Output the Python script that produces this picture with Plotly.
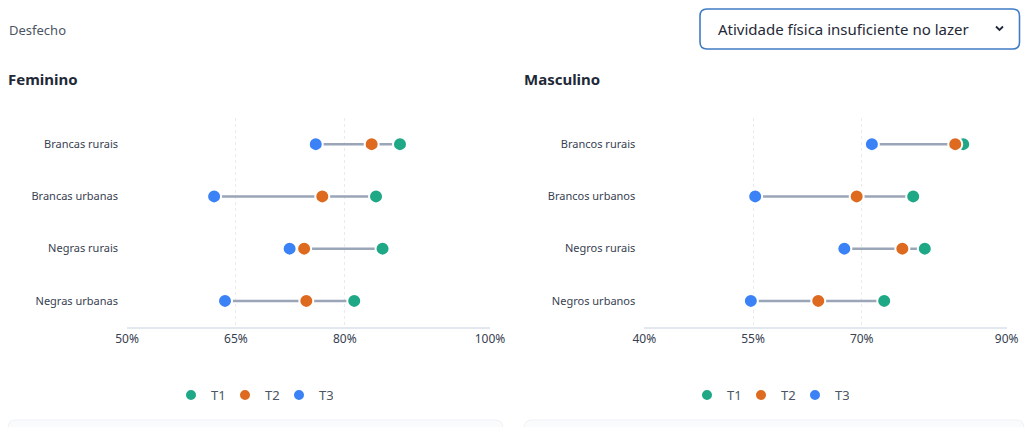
import plotly.graph_objects as go

W, H = 1032, 427

# ---- data ----
cats_f = ["Brancas rurais", "Brancas urbanas", "Negras rurais", "Negras urbanas"]
t1_f = [87.6, 84.3, 85.2, 81.3]
t2_f = [83.7, 76.9, 74.4, 74.7]
t3_f = [76.0, 62.0, 72.4, 63.5]

cats_m = ["Brancos rurais", "Brancos urbanos", "Negros rurais", "Negros urbanos"]
t1_m = [84.0, 77.1, 78.7, 73.1]
t2_m = [82.9, 69.3, 75.6, 64.0]
t3_m = [71.4, 55.3, 67.6, 54.7]

ticks_f = [50, 65, 80, 100]
ticks_m = [40, 55, 70, 90]
series_names = ["T1", "T2", "T3"]
colors = ["#1ea886", "#dd6a1f", "#3b82f6"]
FONT = "Noto Sans, Open Sans, sans-serif"

def px(x):
    return x / W

def py(y):
    return 1 - y / H

fig = go.Figure()

def add_panel(cats, t1, t2, t3, xa, ya, legend):
    lx, ly = [], []
    for c, a, b, d in zip(cats, t1, t2, t3):
        vals = [a, b, d]
        lx += [min(vals), max(vals), None]
        ly += [c, c, None]
    fig.add_trace(go.Scatter(x=lx, y=ly, mode="lines", xaxis=xa, yaxis=ya,
                             line=dict(color="#9aa5b8", width=2.5),
                             showlegend=False, hoverinfo="skip"))
    for name, vals, col in zip(series_names, [t1, t2, t3], colors):
        fig.add_trace(go.Scatter(x=vals, y=cats, mode="markers", name=name,
                                 xaxis=xa, yaxis=ya, legend=legend,
                                 marker=dict(color=col, size=14,
                                             line=dict(color="white", width=2))))

add_panel(cats_f, t1_f, t2_f, t3_f, "x", "y", "legend")
add_panel(cats_m, t1_m, t2_m, t3_m, "x2", "y2", "legend2")

ydom = [py(327), py(118)]
common_x = dict(showline=True, linecolor="#e2e8f0", linewidth=1.5,
                showgrid=True, gridcolor="#e8ebf0", griddash="dot", gridwidth=1,
                zeroline=False, ticks="", automargin=False,
                tickfont=dict(size=12, color="#374151", family=FONT),
                fixedrange=True)
common_y = dict(type="category", showline=False, showgrid=False, zeroline=False,
                ticks="", ticklabelstandoff=8, automargin=False,
                tickfont=dict(size=11, color="#374151", family=FONT),
                range=[3.5, -0.5], domain=ydom, fixedrange=True)

legend_common = dict(orientation="h", xanchor="center", yanchor="middle",
                     font=dict(size=13, color="#4b5563", family=FONT), itemwidth=30,
                     entrywidth=9, entrywidthmode="pixels", itemsizing="constant",
                     bgcolor="rgba(0,0,0,0)")

fig.update_layout(
    width=W, height=H,
    margin=dict(l=0, r=0, t=0, b=0, pad=0, autoexpand=False),
    paper_bgcolor="white", plot_bgcolor="white",
    font=dict(family=FONT, color="#374151"),
    xaxis=dict(domain=[px(127), px(490)], range=[50, 100], tickvals=ticks_f,
               ticktext=[f"{v}%" for v in ticks_f], anchor="y", **common_x),
    yaxis=dict(anchor="x", categoryorder="array", categoryarray=cats_f, **common_y),
    xaxis2=dict(domain=[px(644.3), px(1006.7)], range=[40, 90], tickvals=ticks_m,
                ticktext=[f"{v}%" for v in ticks_m], anchor="y2", **common_x),
    yaxis2=dict(anchor="x2", categoryorder="array", categoryarray=cats_m, **common_y),
    legend=dict(x=px(252), y=py(395), **legend_common),
    legend2=dict(x=px(768), y=py(395), **legend_common),
    showlegend=True,
)

# ---- texts ----
fig.add_annotation(x=px(7), y=py(30), xref="paper", yref="paper", text="Desfecho",
                   showarrow=False, xanchor="left", yanchor="middle",
                   font=dict(size=13, color="#4b5563", family=FONT))
fig.add_annotation(x=px(6), y=py(79), xref="paper", yref="paper", text="<b>Feminino</b>",
                   showarrow=False, xanchor="left", yanchor="middle",
                   font=dict(size=15, color="#1f2937", family=FONT))
fig.add_annotation(x=px(522), y=py(79), xref="paper", yref="paper", text="<b>Masculino</b>",
                   showarrow=False, xanchor="left", yanchor="middle",
                   font=dict(size=15, color="#1f2937", family=FONT))

# ---- dropdown ----
def rounded_rect(x0, y0, x1, y1, r):
    X0, X1 = px(x0), px(x1)
    Y0, Y1 = py(y0), py(y1)
    rx, ry = r / W, r / H
    return (f"M {X0+rx},{Y0} L {X1-rx},{Y0} Q {X1},{Y0} {X1},{Y0-ry} "
            f"L {X1},{Y1+ry} Q {X1},{Y1} {X1-rx},{Y1} L {X0+rx},{Y1} "
            f"Q {X0},{Y1} {X0},{Y1+ry} L {X0},{Y0-ry} Q {X0},{Y0} {X0+rx},{Y0} Z")

fig.add_shape(type="path", xref="paper", yref="paper",
              path=rounded_rect(700, 9, 1019.5, 49, 7),
              line=dict(color="#3f7cc4", width=1.6), fillcolor="white")
fig.add_annotation(x=px(716), y=py(29.5), xref="paper", yref="paper",
                   text="Atividade física insuficiente no lazer",
                   showarrow=False, xanchor="left", yanchor="middle",
                   font=dict(size=15, color="#1f2937", family=FONT))
fig.add_shape(type="path", xref="paper", yref="paper",
              path=f"M {px(996)},{py(26.5)} L {px(999.5)},{py(30)} L {px(1003)},{py(26.5)}",
              line=dict(color="#1f2937", width=1.8))

# ---- next cards (partially visible) ----
for x0, x1 in [(8, 503), (524, 1024)]:
    fig.add_shape(type="path", xref="paper", yref="paper",
                  path=rounded_rect(x0, 420, x1, 460, 8),
                  line=dict(color="#eef1f5", width=1), fillcolor="#fafbfd")

fig.write_html("out.html")
